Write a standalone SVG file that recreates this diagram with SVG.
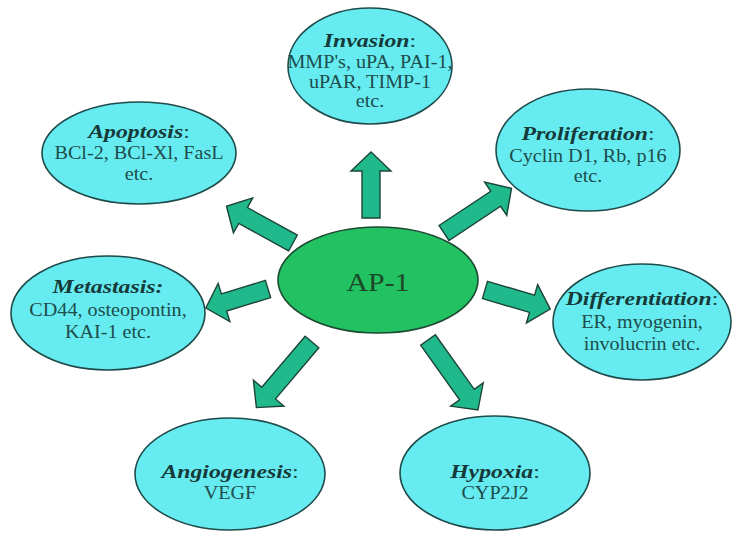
<svg xmlns="http://www.w3.org/2000/svg" width="733" height="535" viewBox="0 0 733 535">
<style>
.bg{fill:#ffffff}
.node{fill:#66ecf0;stroke:#1f4a4a;stroke-width:1.6}
.hub{fill:#22c162;stroke:#1d4a32;stroke-width:1.6}
.arr{fill:#1fb98b;stroke:#1d4438;stroke-width:1.4;stroke-linejoin:miter}
text{font-family:"Liberation Serif","Times New Roman",serif;text-anchor:middle;fill:#1e4d4d;font-size:18px}
.h{font-size:19px}
.t{font-weight:bold;font-style:italic;fill:#163a3a}
.hubt{font-size:26px;fill:#1b4a2a}
</style>
<rect class="bg" x="0" y="0" width="733" height="535"/>
<g id="connectors">
<polygon class="arr" transform="translate(371,218) rotate(-90)" points="0,-9 47,-9 47,-20 66,0 47,20 47,9 0,9"/>
<polygon class="arr" transform="translate(293,243) rotate(-151.1)" points="0,-9 57,-9 57,-20 76,0 57,20 57,9 0,9"/>
<polygon class="arr" transform="translate(444,233) rotate(-33.5)" points="0,-9 62,-9 62,-20 81,0 62,20 62,9 0,9"/>
<polygon class="arr" transform="translate(268,289) rotate(163)" points="0,-9 46,-9 46,-20 65,0 46,20 46,9 0,9"/>
<polygon class="arr" transform="translate(485,290) rotate(16.3)" points="0,-9 49,-9 49,-20 68,0 49,20 49,9 0,9"/>
<polygon class="arr" transform="translate(312,342) rotate(130.3)" points="0,-9 67,-9 67,-20 86,0 67,20 67,9 0,9"/>
<polygon class="arr" transform="translate(428,340) rotate(54.5)" points="0,-9 67,-9 67,-20 86,0 67,20 67,9 0,9"/>
</g>
<g id="ap1">
<ellipse class="hub" cx="378" cy="280" rx="100" ry="53"/>
<text class="hubt" transform="translate(378,291) scale(1.15,1)">AP-1</text>
</g>
<g id="invasion">
<ellipse class="node" cx="370" cy="66" rx="82" ry="58"/>
<text class="h" transform="translate(370,47) scale(1.25,1)"><tspan class="t">Invasion</tspan>:</text>
<text transform="translate(370,68) scale(1.12,1)">MMP's, uPA, PAI-1,</text>
<text transform="translate(370,88) scale(1.12,1)">uPAR, TIMP-1</text>
<text transform="translate(370,107) scale(1.12,1)">etc.</text>
</g>
<g id="apoptosis">
<ellipse class="node" cx="139" cy="153" rx="97" ry="51"/>
<text class="h" transform="translate(139,138) scale(1.25,1)"><tspan class="t">Apoptosis</tspan>:</text>
<text transform="translate(139,159) scale(1.12,1)">BCl-2, BCl-Xl, FasL</text>
<text transform="translate(139,180) scale(1.12,1)">etc.</text>
</g>
<g id="proliferation">
<ellipse class="node" cx="588" cy="150" rx="92" ry="61"/>
<text class="h" transform="translate(588,140) scale(1.25,1)"><tspan class="t">Proliferation</tspan>:</text>
<text transform="translate(588,162) scale(1.12,1)">Cyclin D1, Rb, p16</text>
<text transform="translate(588,182) scale(1.12,1)">etc.</text>
</g>
<g id="metastasis">
<ellipse class="node" cx="108" cy="313" rx="97" ry="57"/>
<text class="h" transform="translate(108,293) scale(1.25,1)"><tspan class="t">Metastasis:</tspan></text>
<text transform="translate(108,316) scale(1.12,1)">CD44, osteopontin,</text>
<text transform="translate(108,338) scale(1.12,1)">KAI-1 etc.</text>
</g>
<g id="differentiation">
<ellipse class="node" cx="642" cy="322" rx="89" ry="58"/>
<text class="h" transform="translate(642,305) scale(1.25,1)"><tspan class="t">Differentiation</tspan>:</text>
<text transform="translate(642,328) scale(1.12,1)">ER, myogenin,</text>
<text transform="translate(642,350) scale(1.12,1)">involucrin etc.</text>
</g>
<g id="angiogenesis">
<ellipse class="node" cx="230" cy="474" rx="95" ry="56"/>
<text class="h" transform="translate(230,478) scale(1.25,1)"><tspan class="t">Angiogenesis</tspan>:</text>
<text transform="translate(230,499) scale(1.12,1)">VEGF</text>
</g>
<g id="hypoxia">
<ellipse class="node" cx="495" cy="473" rx="95" ry="57"/>
<text class="h" transform="translate(495,478) scale(1.25,1)"><tspan class="t">Hypoxia</tspan>:</text>
<text transform="translate(495,499) scale(1.12,1)">CYP2J2</text>
</g>
</svg>
